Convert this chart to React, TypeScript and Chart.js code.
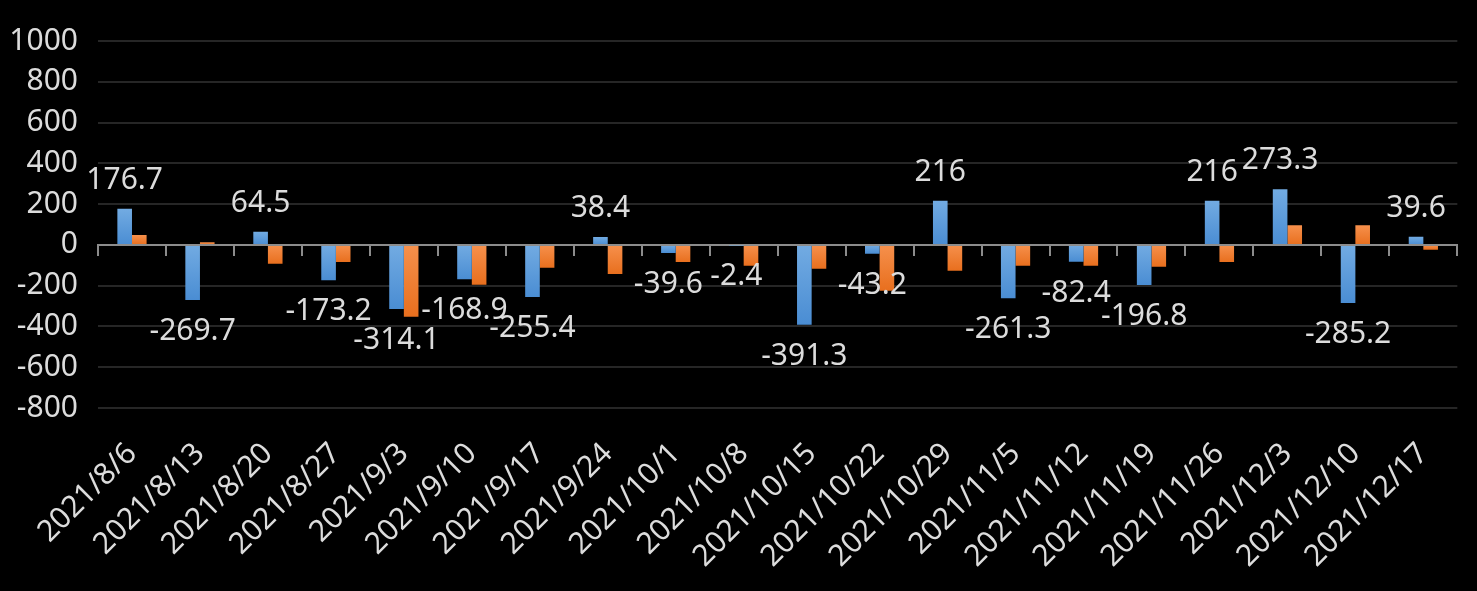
import React, { useEffect, useRef } from 'react';
import { Chart, registerables } from 'chart.js';

Chart.register(...registerables);

const categories = [
  '2021/8/6', '2021/8/13', '2021/8/20', '2021/8/27', '2021/9/3', '2021/9/10', '2021/9/17',
  '2021/9/24', '2021/10/1', '2021/10/8', '2021/10/15', '2021/10/22', '2021/10/29', '2021/11/5',
  '2021/11/12', '2021/11/19', '2021/11/26', '2021/12/3', '2021/12/10', '2021/12/17',
];
const seriesBlue = [
  176.7, -269.7, 64.5, -173.2, -314.1, -168.9, -255.4, 38.4, -39.6, -2.4,
  -391.3, -43.2, 216, -261.3, -82.4, -196.8, 216, 273.3, -285.2, 39.6,
];
const seriesOrange = [
  48, 13, -93, -84, -352, -195, -112, -143, -84, -102,
  -117, -225, -127, -102, -102, -107, -84, 96, 96, -24,
];
const yMin = -800;
const yMax = 1000;
const yStep = 200;

const FONT = '"Noto Sans", "Open Sans", sans-serif';
const TEXT = '#dcdcdc';

function barGradient(top: string, bottom: string) {
  return (ctx: any) => {
    const chart = ctx.chart;
    const y = chart.scales && chart.scales.y;
    if (!y || ctx.raw === undefined) return top;
    const p1 = y.getPixelForValue(ctx.raw);
    const p0 = y.getPixelForValue(0);
    const a = Math.min(p0, p1);
    const b = Math.max(p0, p1);
    if (!isFinite(a) || !isFinite(b) || b - a < 1) return top;
    const g = chart.ctx.createLinearGradient(0, a, 0, b);
    g.addColorStop(0, top);
    g.addColorStop(1, bottom);
    return g;
  };
}

const labelPlugin = {
  id: 'blueLabels',
  afterDatasetsDraw(chart: any) {
    const meta = chart.getDatasetMeta(0);
    const ctx = chart.ctx;
    ctx.save();
    ctx.font = `30px ${FONT}`;
    ctx.fillStyle = TEXT;
    ctx.textAlign = 'center';
    ctx.textBaseline = 'alphabetic';
    meta.data.forEach((el: any, i: number) => {
      const v = seriesBlue[i];
      const txt = String(v);
      if (v >= 0) {
        ctx.fillText(txt, el.x, el.y - 20);
      } else {
        ctx.fillText(txt, el.x, el.y + 40);
      }
    });
    ctx.restore();
  },
};

export default function App() {
  const ref = useRef<HTMLCanvasElement | null>(null);

  useEffect(() => {
    if (!ref.current) return;
    const chart = new Chart(ref.current, {
      type: 'bar',
      data: {
        labels: categories,
        datasets: [
          {
            label: 'A',
            data: seriesBlue,
            backgroundColor: barGradient('#72abe2', '#4a8dd3'),
            categoryPercentage: 0.43,
            barPercentage: 1,
          },
          {
            label: 'B',
            data: seriesOrange,
            backgroundColor: barGradient('#f6904c', '#e86f1e'),
            categoryPercentage: 0.43,
            barPercentage: 1,
          },
        ],
      },
      options: {
        animation: false,
        responsive: false,
        maintainAspectRatio: false,
        layout: { padding: { top: 41, right: 8, left: 0, bottom: 0 } },
        plugins: {
          legend: { display: false },
          tooltip: { enabled: false },
        },
        scales: {
          x: {
            type: 'category',
            position: 'bottom',
            grid: { display: false, drawTicks: false },
            border: { display: false },
            ticks: {
              color: TEXT,
              font: { family: FONT, size: 30 },
              maxRotation: 45,
              minRotation: 45,
              autoSkip: false,
              padding: 28,
            },
            afterFit: (s: any) => { s.height = 183; },
          },
          x2: {
            type: 'category',
            position: { y: 0 } as any,
            offset: true,
            grid: {
              offset: true,
              drawOnChartArea: false,
              drawTicks: true,
              tickLength: 10,
              color: '#8c8c8c',
              lineWidth: 2,
            },
            border: { display: true, color: '#8c8c8c', width: 2 },
            ticks: { display: false },
          },
          y: {
            min: yMin,
            max: yMax,
            ticks: {
              stepSize: yStep,
              color: TEXT,
              font: { family: FONT, size: 30 },
              padding: 20,
              callback: (v: any) => String(v),
            },
            grid: {
              drawTicks: false,
              color: (c: any) => (c.tick && c.tick.value === 0 ? 'rgba(0,0,0,0)' : '#262626'),
              lineWidth: 2,
            },
            border: { display: false },
            afterFit: (s: any) => { s.width = 98; },
          },
        },
      },
      plugins: [labelPlugin],
    });
    return () => chart.destroy();
  }, []);

  return (
    <div style={{ position: 'fixed', left: 0, top: 0, width: 1477, height: 591, background: '#000' }}>
      <canvas ref={ref} width={1477} height={591} style={{ display: 'block', width: 1477, height: 591 }} />
    </div>
  );
}
